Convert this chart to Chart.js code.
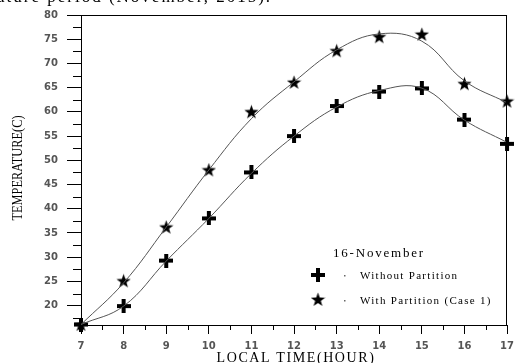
<!DOCTYPE html>
<html>
<head>
<meta charset="utf-8">
<script src="https://cdn.jsdelivr.net/npm/chart.js@4.4.1/dist/chart.umd.min.js"></script>
<style>
body { margin: 0; background: #fff; }
#wrap { width: 520px; height: 363px; }
</style>
</head>
<body>
<div id="wrap"><canvas id="chart" width="520" height="363"></canvas></div>
<script>
const hours = [7, 8, 9, 10, 11, 12, 13, 14, 15, 16, 17];
const withoutPartition = [16.1, 19.9, 29.3, 38.0, 47.5, 55.0, 61.2, 64.2, 64.85, 58.4, 53.4];
const withPartition = [16.1, 25.1, 36.2, 48.0, 60.0, 66.1, 72.6, 75.5, 76.0, 65.8, 62.2];
// fitted curves at each hour
const withoutCurve = [16.1, 19.9, 29.2, 38.0, 47.3, 55.0, 61.0, 64.4, 64.9, 58.3, 53.7];
const withCurve = [16.1, 24.7, 36.2, 48.0, 58.6, 66.2, 72.8, 76.1, 74.6, 66.4, 61.9];
const xTicks = [7, 8, 9, 10, 11, 12, 13, 14, 15, 16, 17];
const yTicks = [20, 25, 30, 35, 40, 45, 50, 55, 60, 65, 70, 75, 80];
const dateLabel = '16-November';
const seriesNames = ['Without Partition', 'With Partition (Case 1)'];
const xTitle = 'LOCAL TIME(HOUR)';
const yTitle = 'TEMPERATURE(C)';
const topText = 'ature period (November, 2015).';

function makeCross() {
    const c = document.createElement('canvas');
    c.width = 14; c.height = 14;
    const g = c.getContext('2d');
    g.fillStyle = '#000';
    g.fillRect(0, 5, 14, 4);
    g.fillRect(5, 0, 4, 14);
    return c;
}

function makeStar() {
    const c = document.createElement('canvas');
    c.width = 15; c.height = 15;
    const g = c.getContext('2d');
    g.fillStyle = '#000';
    g.beginPath();
    for (let i = 0; i < 10; i++) {
        const r = i % 2 ? 3 : 7.5;
        const a = -Math.PI / 2 + i * Math.PI / 5;
        g.lineTo(7.5 + r * Math.cos(a), 8 + r * Math.sin(a));
    }
    g.closePath();
    g.fill();
    return c;
}

const crossImg = makeCross();
const starImg = makeStar();

const toPoints = ys => hours.map((h, i) => ({ x: h, y: ys[i] }));

const decor = {
    id: 'decor',
    afterDraw(chart) {
        const ctx = chart.ctx;
        const a = chart.chartArea;
        const xs = chart.scales.x;
        const ys = chart.scales.y;
        ctx.save();
        ctx.strokeStyle = '#000';
        ctx.lineWidth = 1;
        ctx.beginPath();
        // minor ticks
        for (let v = 17.5; v < 80; v += 5) {
            const y = Math.round(ys.getPixelForValue(v)) + 0.5;
            ctx.moveTo(a.left - 8, y);
            ctx.lineTo(a.left, y);
        }
        for (let h = 7.5; h < 17; h += 1) {
            const x = Math.round(xs.getPixelForValue(h)) + 0.5;
            ctx.moveTo(x, a.bottom);
            ctx.lineTo(x, a.bottom + 5);
        }
        // frame top and right
        ctx.moveTo(a.left, Math.round(a.top) + 0.5);
        ctx.lineTo(a.right, Math.round(a.top) + 0.5);
        ctx.moveTo(Math.round(a.right) - 0.5, a.top);
        ctx.lineTo(Math.round(a.right) - 0.5, a.bottom);
        ctx.stroke();

        ctx.fillStyle = '#000';
        // clipped caption line at the very top
        ctx.font = '17px "Liberation Serif"';
        ctx.textAlign = 'left';
        ctx.textBaseline = 'alphabetic';
        ctx.letterSpacing = '2px';
        ctx.fillText(topText, -3, 2);

        // x title
        ctx.font = '14px "Liberation Serif"';
        ctx.letterSpacing = '1.6px';
        ctx.textAlign = 'center';
        ctx.fillText(xTitle, 296, 362);

        // y title, condensed
        ctx.letterSpacing = '0px';
        ctx.save();
        ctx.translate(22, 168);
        ctx.rotate(-Math.PI / 2);
        const w = ctx.measureText(yTitle).width;
        ctx.scale(105 / w, 1);
        ctx.fillText(yTitle, 0, 0);
        ctx.restore();

        // date annotation
        ctx.textAlign = 'left';
        ctx.textBaseline = 'middle';
        ctx.font = '13px "Liberation Serif"';
        ctx.letterSpacing = '1.8px';
        ctx.fillText(dateLabel, 333, 254);

        // legend
        ctx.font = '11px "Liberation Serif"';
        ctx.letterSpacing = '1.3px';
        ctx.drawImage(crossImg, 318 - 7, 275 - 7);
        ctx.drawImage(starImg, 318 - 7.5, 300 - 8);
        ctx.fillText(seriesNames[0], 360, 276);
        ctx.fillText(seriesNames[1], 360, 301);
        ctx.fillStyle = '#666';
        ctx.fillRect(344, 275, 1.5, 1.5);
        ctx.fillRect(344, 300, 1.5, 1.5);
        ctx.restore();
    }
};

const tickFont = { family: 'DejaVu Sans', size: 10, weight: 'bold' };

new Chart(document.getElementById('chart'), {
    type: 'line',
    data: {
        datasets: [
            {
                label: 'curve without',
                data: toPoints(withoutCurve),
                borderColor: '#555',
                borderWidth: 1,
                pointRadius: 0,
                tension: 0.4,
                fill: false
            },
            {
                label: 'curve with',
                data: toPoints(withCurve),
                borderColor: '#555',
                borderWidth: 1,
                pointRadius: 0,
                tension: 0.4,
                fill: false
            },
            {
                label: seriesNames[0],
                data: toPoints(withoutPartition),
                showLine: false,
                pointStyle: crossImg,
                clip: false
            },
            {
                label: seriesNames[1],
                data: toPoints(withPartition),
                showLine: false,
                pointStyle: starImg,
                clip: false
            }
        ]
    },
    options: {
        responsive: false,
        animation: false,
        events: [],
        layout: { padding: { top: 14, right: 4, left: 0, bottom: 0 } },
        plugins: {
            legend: { display: false },
            tooltip: { enabled: false }
        },
        scales: {
            x: {
                type: 'linear',
                min: 7,
                max: 17,
                afterBuildTicks: s => { s.ticks = xTicks.map(v => ({ value: v })); },
                afterFit: s => { s.height = 38; },
                grid: { drawOnChartArea: false, tickLength: 9, color: '#000' },
                border: { display: true, color: '#000' },
                ticks: { font: tickFont, color: '#555', padding: 6, maxRotation: 0 }
            },
            y: {
                min: 16,
                max: 80,
                afterBuildTicks: s => { s.ticks = yTicks.map(v => ({ value: v })); },
                afterFit: s => { s.width = 81; },
                grid: { drawOnChartArea: false, tickLength: 14, color: '#000' },
                border: { display: true, color: '#000' },
                ticks: { font: tickFont, color: '#555', padding: 9 }
            }
        }
    },
    plugins: [decor]
});
</script>
</body>
</html>
